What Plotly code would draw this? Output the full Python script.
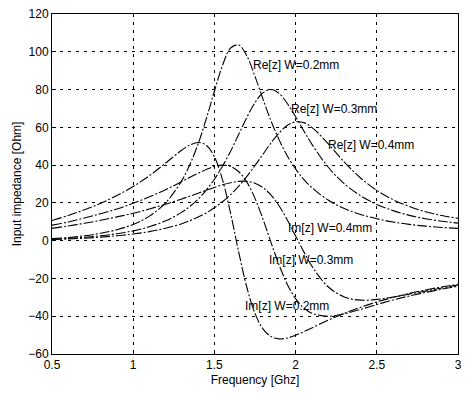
import plotly.graph_objects as go

freq = [0.5, 0.6, 0.7, 0.8, 0.9, 1.0, 1.1, 1.2, 1.3, 1.35, 1.4, 1.45, 1.5, 1.55, 1.6,
        1.65, 1.7, 1.75, 1.8, 1.85, 1.9, 1.95, 2.0, 2.05, 2.1, 2.2, 2.3, 2.4, 2.5,
        2.6, 2.7, 2.8, 2.9, 3.0]

re_w02 = [1.1, 1.7, 2.6, 3.9, 5.8, 8.6, 13.0, 20.1, 31.9, 40.5, 51.3, 64.5, 79.1, 92.8, 102.0,
          103.6, 97.7, 87.0, 74.7, 63.1, 53.1, 44.7, 38.0, 32.5, 28.1, 21.5, 17.0, 13.9, 11.6,
          9.9, 8.6, 7.7, 7.0, 6.5]
im_w02 = [10.7, 13.3, 16.4, 19.8, 23.9, 28.7, 34.4, 41.1, 48.0, 50.7, 52.0, 50.5, 44.4, 32.2, 14.4,
          -6.2, -24.8, -38.5, -46.8, -50.8, -52.0, -51.5, -50.1, -48.2, -46.2, -42.1, -38.5, -35.3, -32.4,
          -30.0, -27.9, -26.1, -24.5, -23.1]

re_w03 = [0.8, 1.2, 1.8, 2.6, 3.7, 5.2, 7.4, 10.5, 15.1, 18.2, 22.0, 26.8, 32.5, 39.4, 47.4,
          56.3, 65.3, 73.1, 78.4, 80.0, 77.8, 72.5, 65.6, 58.2, 51.1, 39.0, 30.1, 23.8, 19.2,
          15.9, 13.4, 11.6, 10.3, 9.3]
im_w03 = [8.2, 9.9, 12.0, 14.3, 16.8, 19.8, 23.2, 27.0, 31.3, 33.6, 35.7, 37.7, 39.3, 40.0, 39.3,
          36.5, 31.0, 22.4, 11.2, -1.3, -13.2, -23.3, -30.7, -35.6, -38.4, -40.0, -38.7, -36.4, -33.8,
          -31.4, -29.3, -27.4, -25.7, -24.1]

re_w04 = [0.6, 0.9, 1.3, 1.9, 2.6, 3.5, 4.8, 6.6, 9.0, 10.6, 12.5, 14.7, 17.4, 20.6, 24.4,
          28.9, 34.0, 39.8, 45.9, 51.9, 57.2, 61.1, 62.9, 62.5, 60.0, 51.4, 41.6, 33.2, 26.6,
          21.7, 18.1, 15.3, 13.3, 11.8]
im_w04 = [6.5, 7.8, 9.2, 10.8, 12.6, 14.5, 16.8, 19.3, 22.1, 23.6, 25.1, 26.7, 28.2, 29.6, 30.7,
          31.4, 31.4, 30.4, 28.0, 24.0, 18.2, 10.8, 2.5, -5.8, -13.4, -24.4, -29.8, -31.5, -31.1,
          -29.9, -28.3, -26.7, -25.1, -23.5]

labels = ["Re[z] W=0.2mm", "Re[z] W=0.3mm", "Re[z] W=0.4mm",
          "Im[z] W=0.4mm", "Im[z] W=0.3mm", "Im[z] W=0.2mm"]
label_x = [1.726, 1.962, 2.189, 1.941, 1.825, 1.677]
label_y = [93.2, 69.9, 50.5, 6.7, -10.4, -34.8]

x_ticks = [0.5, 1, 1.5, 2, 2.5, 3]
y_ticks = [-60, -40, -20, 0, 20, 40, 60, 80, 100, 120]

FONT = "Liberation Sans, Arial, sans-serif"
line_style = dict(color="black", width=1.1, dash="10px,2px,2px,2px")

fig = go.Figure()
for ys in [re_w02, re_w03, re_w04, im_w02, im_w03, im_w04]:
    fig.add_trace(go.Scatter(x=freq, y=ys, mode="lines", line=line_style,
                             line_shape="spline", showlegend=False, hoverinfo="skip"))

for t, lx, ly in zip(labels, label_x, label_y):
    fig.add_annotation(x=lx, y=ly, text=t, showarrow=False, xanchor="left",
                       yanchor="middle", font=dict(family=FONT, size=12, color="black"))

axis_common = dict(
    showline=True, linecolor="black", linewidth=1, mirror=True,
    showgrid=True, gridcolor="black", gridwidth=1, griddash="3px,5px",
    ticks="inside", ticklen=4, tickcolor="black", zeroline=False,
    tickfont=dict(family=FONT, size=12, color="black"),
)

fig.update_xaxes(range=[0.5, 3], tickvals=x_ticks, ticktext=[str(v) for v in x_ticks],
                 title=dict(text="Frequency [Ghz]", font=dict(family=FONT, size=12, color="black"),
                            standoff=4),
                 **axis_common)
fig.update_yaxes(range=[-60, 120], tickvals=y_ticks,
                 title=dict(text="Input impedance [Ohm]", font=dict(family=FONT, size=12, color="black"),
                            standoff=4),
                 **axis_common)

fig.update_layout(
    width=469, height=396,
    margin=dict(l=52, r=7, t=14, b=42),
    paper_bgcolor="white", plot_bgcolor="white",
    showlegend=False,
)

fig.write_html("out.html")
